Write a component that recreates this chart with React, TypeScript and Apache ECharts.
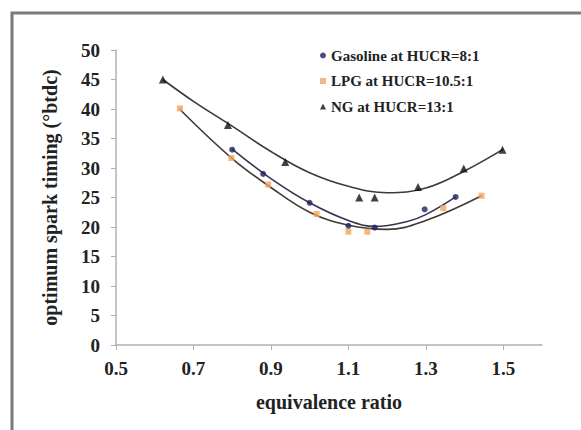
import React, { useEffect, useRef } from "react";
import * as echarts from "echarts";

// Scatter data: [equivalence ratio, optimum spark timing]
const gasolinePts: number[][] = [
  [0.8, 33.1], [0.88, 29.0], [1.0, 24.1], [1.1, 20.2], [1.168, 19.9], [1.297, 23.0], [1.377, 25.1],
];
const lpgPts: number[][] = [
  [0.665, 40.1], [0.798, 31.7], [0.893, 27.2], [1.018, 22.2], [1.1, 19.2], [1.149, 19.2], [1.345, 23.2], [1.444, 25.3],
];
const ngPts: number[][] = [
  [0.621, 45.0], [0.789, 37.3], [0.937, 31.0], [1.128, 25.0], [1.168, 25.0], [1.28, 26.8], [1.398, 29.9], [1.498, 33.1],
];

// Trend curves
const gasolineTrend: number[][] = [
  [0.8, 33.2], [0.9, 28.2], [1.0, 24.1], [1.1, 21.1], [1.17, 20.1], [1.25, 20.9], [1.3, 22.1], [1.377, 25.1],
];
const lpgTrend: number[][] = [
  [0.664, 40.0], [0.8, 31.6], [0.9, 26.7], [1.0, 22.5], [1.1, 20.3], [1.2, 19.6], [1.3, 21.1], [1.444, 25.3],
];
const ngTrend: number[][] = [
  [0.621, 45.0], [0.7, 41.3], [0.8, 37.1], [0.9, 32.8], [1.0, 29.2], [1.1, 26.9], [1.2, 25.8], [1.3, 26.6], [1.4, 29.5], [1.5, 33.2],
];

const xTicks = [0.5, 0.7, 0.9, 1.1, 1.3, 1.5];
const seriesNames = ["Gasoline at HUCR=8:1", "LPG at HUCR=10.5:1", "NG at HUCR=13:1"];

const FONT = "Liberation Serif";

export default function App() {
  const ref = useRef<HTMLDivElement>(null);
  useEffect(() => {
    if (!ref.current) return;
    const chart = echarts.init(ref.current, null, { renderer: "svg" });
    const axisLineColor = "#b0b0b0";
    const trendStyle = (c: string) => ({ color: c, width: 1.6 });
    chart.setOption({
      animation: false,
      backgroundColor: "#ffffff",
      graphic: [
        {
          type: "rect",
          shape: { x: 12, y: 13, width: 620, height: 460 },
          style: { fill: "none", stroke: "#7a7a7a", lineWidth: 3 },
          silent: true,
        },
      ],
      grid: { left: 116, right: 39, top: 50, bottom: 85, containLabel: false },
      legend: {
        orient: "vertical",
        left: 315,
        top: 43,
        itemGap: 10.5,
        itemWidth: 6,
        itemHeight: 6,
        data: [
          { name: seriesNames[0], icon: "circle" },
          { name: seriesNames[1], icon: "rect" },
          { name: seriesNames[2], icon: "triangle" },
        ],
        textStyle: { fontFamily: FONT, fontWeight: "bold", fontSize: 15, color: "#222" },
      },
      xAxis: {
        type: "value",
        min: 0.5,
        max: 1.6,
        interval: 0.1,
        name: "equivalence ratio",
        nameLocation: "middle",
        nameGap: 47,
        nameTextStyle: { fontFamily: FONT, fontWeight: "bold", fontSize: 20, color: "#222" },
        axisLine: { show: true, lineStyle: { color: axisLineColor, width: 1.5 } },
        axisTick: { show: true, length: 5, customValues: xTicks, lineStyle: { color: axisLineColor } },
        axisLabel: {
          customValues: xTicks,
          margin: 14,
          fontFamily: FONT,
          fontWeight: "bold",
          fontSize: 19,
          color: "#222",
          formatter: (v: number) => v.toFixed(1),
        },
        splitLine: { show: false },
      },
      yAxis: {
        type: "value",
        min: 0,
        max: 50,
        interval: 5,
        name: "optimum spark timing (°btdc)",
        nameLocation: "middle",
        nameGap: 56,
        nameTextStyle: { fontFamily: FONT, fontWeight: "bold", fontSize: 20, color: "#222" },
        axisLine: { show: true, lineStyle: { color: axisLineColor, width: 1.5 } },
        axisTick: { show: true, length: 5, lineStyle: { color: axisLineColor } },
        axisLabel: { margin: 16, fontFamily: FONT, fontWeight: "bold", fontSize: 19, color: "#222" },
        splitLine: { show: false },
      },
      series: [
        {
          type: "line",
          data: ngTrend,
          smooth: 0.4,
          showSymbol: false,
          lineStyle: trendStyle("#3a3a3a"),
          silent: true,
          z: 1,
        },
        {
          type: "line",
          data: gasolineTrend,
          smooth: 0.4,
          showSymbol: false,
          lineStyle: trendStyle("#363650"),
          silent: true,
          z: 1,
        },
        {
          type: "line",
          data: lpgTrend,
          smooth: 0.4,
          showSymbol: false,
          lineStyle: trendStyle("#443a34"),
          silent: true,
          z: 1,
        },
        {
          name: seriesNames[0],
          type: "scatter",
          data: gasolinePts,
          symbol: "circle",
          symbolSize: 6,
          itemStyle: { color: "#1c2260" },
          z: 3,
        },
        {
          name: seriesNames[1],
          type: "scatter",
          data: lpgPts,
          symbol: "rect",
          symbolSize: 6,
          itemStyle: { color: "#f2a460" },
          z: 3,
        },
        {
          name: seriesNames[2],
          type: "scatter",
          data: ngPts,
          symbol: "triangle",
          symbolSize: 8,
          itemStyle: { color: "#111111" },
          z: 3,
        },
      ],
    });
    return () => chart.dispose();
  }, []);
  return (
    <div
      ref={ref}
      style={{ position: "fixed", left: 0, top: 0, width: 581, height: 430, background: "#fff" }}
    />
  );
}
